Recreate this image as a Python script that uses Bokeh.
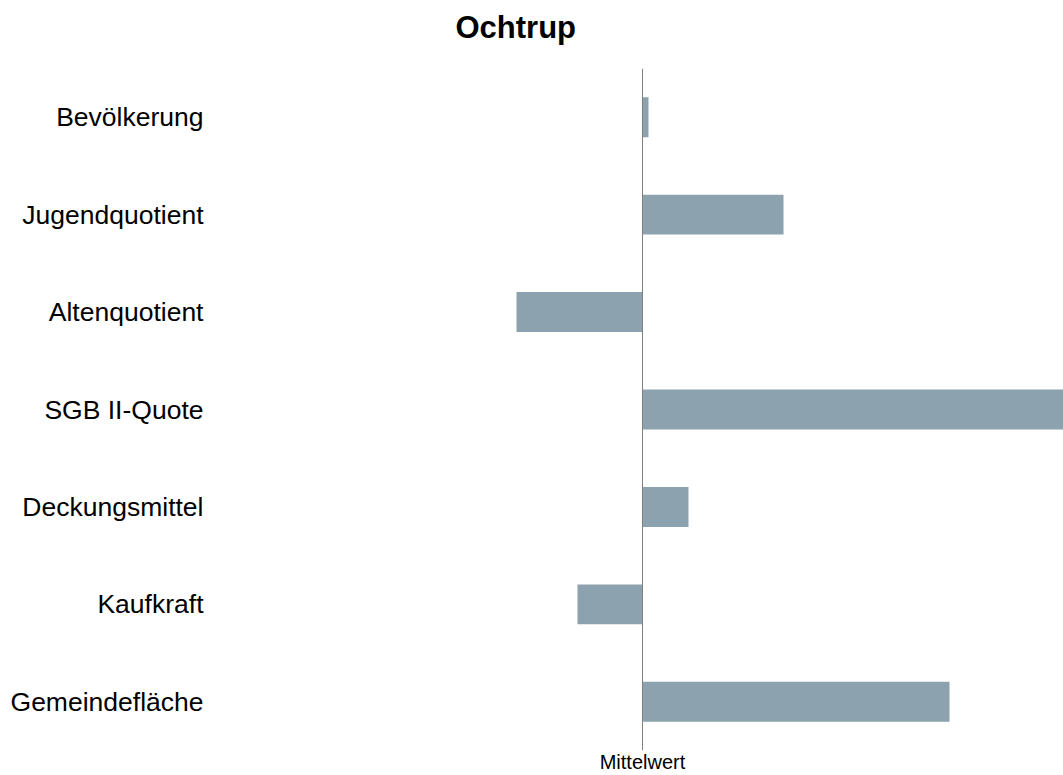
from bokeh.plotting import figure
from bokeh.models import FactorRange, Range1d, Span, FixedTicker, ColumnDataSource, Title
from bokeh.embed import file_html
from bokeh.resources import INLINE

categories = ["Bevölkerung", "Jugendquotient", "Altenquotient", "SGB II-Quote",
              "Deckungsmittel", "Kaufkraft", "Gemeindefläche"]
values = [0.06, 1.41, -1.26, 4.60, 0.46, -0.65, 3.07]
mean_label = "Mittelwert"
title_text = "Ochtrup"

src = ColumnDataSource(dict(cat=categories, val=values, zero=[0] * len(values)))

p = figure(width=1063, height=775,
           y_range=FactorRange(factors=categories[::-1], range_padding=0),
           x_range=Range1d(-4.27, 4.21),
           output_backend="svg", toolbar_location=None,
           min_border_left=215, min_border_right=0,
           min_border_top=68, min_border_bottom=0)

# spacer between frame and title (closest to the frame)
p.add_layout(Title(text=" ", text_font_size="4px", standoff=10), "above")
p.add_layout(Title(text=title_text, text_font="Liberation Sans", text_font_size="31px",
                   text_font_style="bold", text_color="#000000", align="left",
                   offset=240, standoff=14), "above")

p.hbar(y="cat", left="zero", right="val", height=0.41, source=src,
       fill_color="#8CA2AE", line_color=None)

p.add_layout(Span(location=0, dimension="height", line_color="#7f7f7f", line_width=1))

p.outline_line_color = None
p.xgrid.visible = False
p.ygrid.visible = False
p.background_fill_color = "white"
p.border_fill_color = "white"

ya = p.yaxis[0]
ya.axis_line_color = None
ya.major_tick_line_color = None
ya.minor_tick_line_color = None
ya.major_tick_out = 0
ya.major_tick_in = 0
ya.major_label_standoff = 12
ya.major_label_text_font = "Liberation Sans"
ya.major_label_text_font_size = "26.5px"
ya.major_label_text_color = "#000000"

xa = p.xaxis[0]
xa.ticker = FixedTicker(ticks=[0])
xa.major_label_overrides = {0: mean_label}
xa.axis_line_color = None
xa.major_tick_line_color = None
xa.minor_tick_line_color = None
xa.major_tick_out = 0
xa.major_tick_in = 0
xa.major_label_standoff = 0
xa.major_label_text_font = "Liberation Sans"
xa.major_label_text_font_size = "20px"
xa.major_label_text_color = "#000000"

open("out.html", "w").write(file_html(p, INLINE))
